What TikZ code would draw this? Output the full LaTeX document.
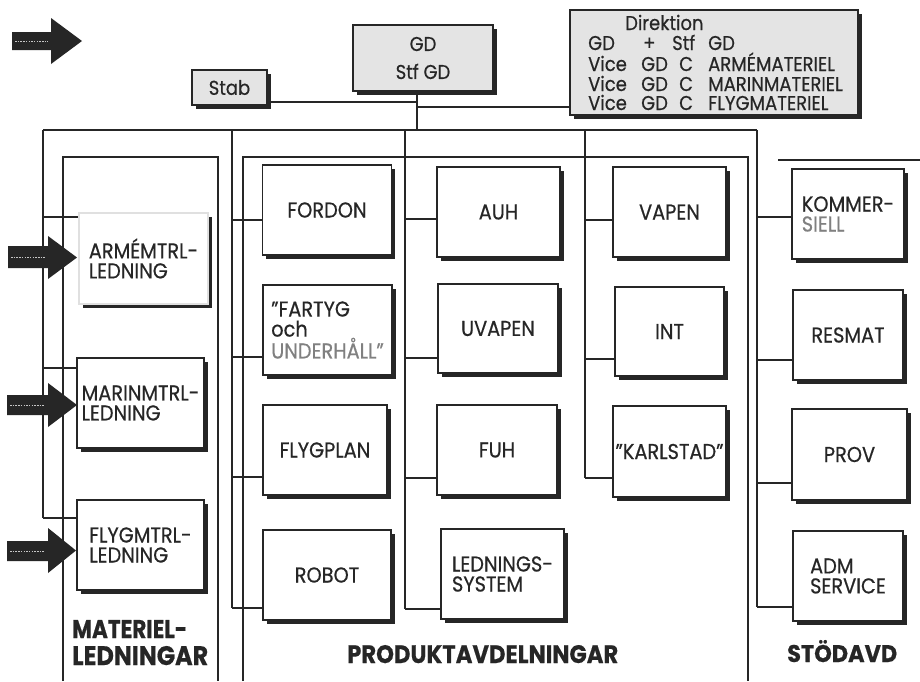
\documentclass[tikz,border=0pt]{standalone}
\usepackage{graphicx}
\usepackage{fontspec}
\setmainfont{Poppins}[FakeStretch=0.9, FakeBold=0.5]
\usetikzlibrary{shadows}
\definecolor{ink}{HTML}{262626}
\definecolor{topfill}{HTML}{E4E4E4}
\definecolor{fadedtext}{HTML}{808080}
\begin{document}
\begin{tikzpicture}[x=1pt,y=-1pt,
  line/.style={draw=ink, line width=1.2pt},
  pbox/.style={draw=ink, line width=1.1pt, fill=white, inner sep=0pt, align=left, text=ink,
    font=\fontsize{21.5}{20}\selectfont,
    general shadow={fill=ink, shadow xshift=3.5pt, shadow yshift=-3.5pt}},
  tbox/.style={pbox, fill=topfill, align=center, font=\fontsize{20}{28}\selectfont},
  dtext/.style={anchor=base west, inner sep=0pt, text=ink, font=\fontsize{20}{20}\selectfont},
  lbl/.style={anchor=base west, inner sep=0pt, text=ink},
  arrowfill/.style={fill=ink, draw=none},
  arrowdots/.style={draw=gray!45, line width=0.8pt, dash pattern=on 1.5pt off 1.2pt}
]
\fill[white] (0,0) rectangle (920,681);
\useasboundingbox (0,0) rectangle (920,681);

% panels
\draw[line, line width=1.1pt] (63,681) -- (63,157) -- (218,157) -- (218,681);
\draw[line, line width=1.1pt] (243,681) -- (243,157) -- (748,157) -- (748,681);
\draw[line, line width=1.1pt] (778,160) -- (920,160);

% top boxes
\node[tbox, minimum width=140pt, minimum height=66pt] (gd) at (423,58) {GD\\Stf GD};
\node[tbox, minimum width=75pt, minimum height=35pt] (stab) at (229.5,87.5) {Stab};
\node[tbox, minimum width=288pt, minimum height=105pt] (dir) at (714,62.5) {};

% direktion text
\node[dtext] (dk) at (625,30) {Direktion};
\node[dtext] (d2a) at (588,50) {GD};
\node[dtext] (d2b) at (643,50) {+};
\node[dtext] (d2c) at (672,50) {Stf};
\node[dtext] (d2d) at (708,50) {GD};
\node[dtext] (d3a) at (588,71) {Vice};
\node[dtext] (d3b) at (641,71) {GD};
\node[dtext] (d3c) at (679,71) {C};
\node[dtext] (d3d) at (708,71) {ARMÉMATERIEL};
\node[dtext] (d4a) at (588,91) {Vice};
\node[dtext] (d4b) at (641,91) {GD};
\node[dtext] (d4c) at (679,91) {C};
\node[dtext] (d4d) at (708,91) {MARINMATERIEL};
\node[dtext] (d5a) at (588,110) {Vice};
\node[dtext] (d5b) at (641,110) {GD};
\node[dtext] (d5c) at (679,110) {C};
\node[dtext] (d5d) at (708,110) {FLYGMATERIEL};

% top connectors
\coordinate (tl) at (43,130);
\coordinate (tr) at (757,130);
\coordinate (gdfoot) at (417,130);
\draw[line] (tl) -- (tr);
\draw[line] (gd.south -| gdfoot) -- (gdfoot);
\draw[line] (stab.east |- 0,102) -- (417,102);
\draw[line] (417,107) -- (dir.west |- 0,107);

% spines
\draw[line] (43,130) -- (43,518);
\draw[line] (232,130) -- (232,608);
\draw[line] (405,130) -- (405,609);
\draw[line] (585,130) -- (585,478);
\draw[line] (757,130) -- (757,607);

% materiel boxes
\node[pbox, draw=black!12, minimum width=129pt, minimum height=91pt] (arm) at (143.5,258.5) {ARMÉMTRL-\\LEDNING};
\node[pbox, minimum width=127pt, minimum height=90pt] (marin) at (140.5,403) {MARINMTRL-\\LEDNING};
\node[pbox, minimum width=127pt, minimum height=90pt] (flyg) at (140.5,545) {FLYGMTRL-\\LEDNING};

% produkt col 1
\node[pbox, minimum width=129pt, minimum height=90pt] (fordon) at (327,210) {FORDON};
\node[pbox, minimum width=129pt, minimum height=90pt, font=\fontsize{21.5}{20}\selectfont] (fartyg) at (327.5,330) {"FARTYG\\och\\\textcolor{fadedtext}{UNDERHÅLL"}};
\node[pbox, minimum width=124pt, minimum height=90pt] (flygplan) at (325,450) {FLYGPLAN};
\node[pbox, minimum width=128pt, minimum height=90pt] (robot) at (327,575) {ROBOT};

% produkt col 2
\node[pbox, minimum width=123pt, minimum height=90pt] (auh) at (498.5,212) {AUH};
\node[pbox, minimum width=120pt, minimum height=89pt] (uvapen) at (498,328.5) {UVAPEN};
\node[pbox, minimum width=120pt, minimum height=90pt] (fuh) at (497,450) {FUH};
\node[pbox, minimum width=123pt, minimum height=90pt] (ledn) at (502.5,574) {LEDNINGS-\\SYSTEM};

% produkt col 3
\node[pbox, minimum width=113pt, minimum height=90pt] (vapen) at (669.5,212) {VAPEN};
\node[pbox, minimum width=109pt, minimum height=89pt] (int) at (669.5,331.5) {INT};
\node[pbox, minimum width=113pt, minimum height=91pt] (karl) at (669.5,451.5) {"KARLSTAD"};

% stod
\node[pbox, minimum width=112pt, minimum height=90pt] (komm) at (848,214) {KOMMER-\\\textcolor{fadedtext}{SIELL}};
\node[pbox, minimum width=110pt, minimum height=90pt] (resmat) at (848,335) {RESMAT};
\node[pbox, minimum width=115pt, minimum height=91pt] (prov) at (849.5,454.5) {PROV};
\node[pbox, minimum width=110pt, minimum height=90pt] (adm) at (848,576) {ADM\\SERVICE};

% connectors
\draw[line] (43,217) -- (arm.west |- 0,217);
\draw[line] (43,368) -- (marin.west |- 0,368);
\draw[line] (43,518) -- (flyg.west |- 0,518);
\draw[line] (232,220) -- (fordon.west |- 0,220);
\draw[line] (232,357) -- (fartyg.west |- 0,357);
\draw[line] (232,477) -- (flygplan.west |- 0,477);
\draw[line] (232,608) -- (robot.west |- 0,608);
\draw[line] (405,219) -- (auh.west |- 0,219);
\draw[line] (405,358) -- (uvapen.west |- 0,358);
\draw[line] (405,478) -- (fuh.west |- 0,478);
\draw[line] (405,609) -- (ledn.west |- 0,609);
\draw[line] (585,220) -- (vapen.west |- 0,220);
\draw[line] (585,359) -- (int.west |- 0,359);
\draw[line] (585,478) -- (karl.west |- 0,478);
\draw[line] (757,217) -- (komm.west |- 0,217);
\draw[line] (757,360) -- (resmat.west |- 0,360);
\draw[line] (757,483) -- (prov.west |- 0,483);
\draw[line] (757,607) -- (adm.west |- 0,607);

% block arrows
\fill[arrowfill] (12,32) -- (51,32) -- (51,18) -- (82,41) -- (51,64) -- (51,50) -- (12,50) -- cycle;
\draw[arrowdots] (15,41) -- (48,41);
\fill[arrowfill] (8,246) -- (48,246) -- (48,236) -- (77,257.5) -- (48,279) -- (48,268) -- (8,268) -- cycle;
\draw[arrowdots] (11,257) -- (45,257);
\fill[arrowfill] (7,395) -- (48,395) -- (48,383) -- (77,405) -- (48,427) -- (48,415) -- (7,415) -- cycle;
\draw[arrowdots] (10,405) -- (45,405);
\fill[arrowfill] (7,541) -- (48,541) -- (48,528) -- (76,550.5) -- (48,573) -- (48,561) -- (7,561) -- cycle;
\draw[arrowdots] (10,551) -- (45,551);

% section labels
\node[lbl] (mat1) at (72,638) {\resizebox{115pt}{18pt}{\bfseries MATERIEL-}};
\node[lbl] (mat2) at (72,665) {\resizebox{136pt}{19pt}{\bfseries LEDNINGAR}};
\node[lbl] (prod) at (347,663) {\resizebox{271pt}{18pt}{\bfseries PRODUKTAVDELNINGAR}};
\node[lbl] (stod) at (787,662) {\resizebox{110pt}{22pt}{\bfseries STÖDAVD}};
\end{tikzpicture}
\end{document}
